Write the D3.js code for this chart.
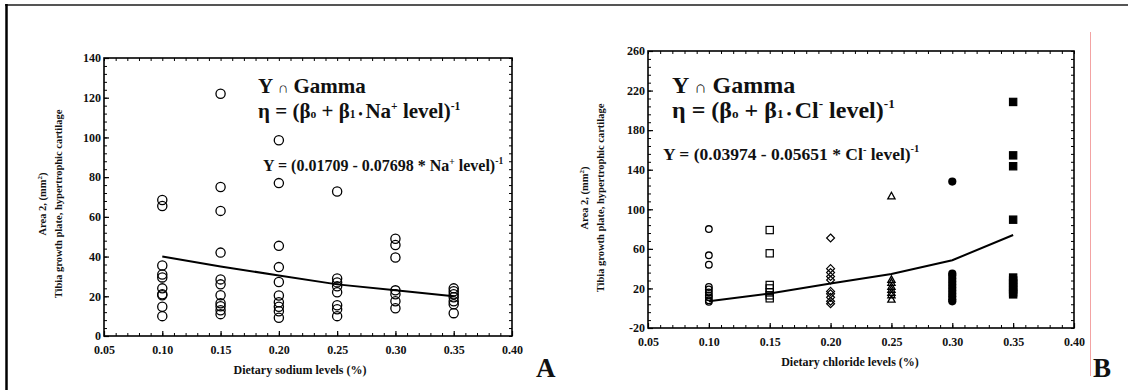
<!DOCTYPE html>
<html>
<head>
<meta charset="utf-8">
<script src="https://cdn.jsdelivr.net/npm/d3@7"></script>
<style>
  body { margin: 0; background: #fff; }
  svg text { font-family: "Liberation Serif", "DejaVu Serif", serif; font-weight: bold; fill: #111; }
</style>
</head>
<body>
<svg id="fig" width="1128" height="390"></svg>
<script>
// ---- data ----
const levels = [0.10, 0.15, 0.20, 0.25, 0.30, 0.35];
const xTickVals = [0.05, 0.10, 0.15, 0.20, 0.25, 0.30, 0.35, 0.40];
const yTicksA = [0, 20, 40, 60, 80, 100, 120, 140];
const yTicksB = [-20, 20, 60, 100, 140, 180, 220, 260];

// panel A: sodium, one list of observations per level
const naArea = [
  [68.5, 65.5, 35.5, 31, 29.5, 24, 21, 20.5, 14.7, 10],
  [122, 75, 63, 42, 28.5, 26, 20.5, 16.5, 15, 13, 11],
  [98.6, 77, 45.4, 34.7, 27.2, 20.4, 17, 14.7, 12.5, 9.2],
  [72.8, 29, 27, 25, 22, 15.5, 13.5, 10],
  [49, 45.8, 39.5, 23, 21, 17.5, 14],
  [24, 22.5, 21, 19.5, 17.5, 16, 11.5]
];
const naFit = [40, 35, 30.5, 26, 23, 20];

// panel B: chloride
const clArea = [
  [80, 53.5, 44, 21.5, 19, 16, 13, 11, 8, 6.5],
  [79, 55.5, 23.5, 20, 16, 13, 10],
  [71, 40, 36, 32, 28.5, 17, 14.5, 11, 7, 4.5],
  [113.5, 29, 26, 22, 19, 16, 13.5, 9],
  [128, 35, 33, 30, 27, 24, 21, 18, 15, 12, 9, 7],
  [208.5, 154.5, 143.5, 89.5, 31, 28, 25, 22, 19, 16, 14]
];
const clFit = [7, 14.8, 25, 34.5, 48.5, 74];
const clShapes = ["circle", "square", "diamond", "triangle", "dot", "block"];

const svg = d3.select("#fig");

// outer frame bits
svg.append("line").attr("x1", 5).attr("x2", 1128).attr("y1", 5).attr("y2", 5)
  .attr("stroke", "#555").attr("stroke-width", 2);
svg.append("line").attr("x1", 6.5).attr("x2", 6.5).attr("y1", 4).attr("y2", 390)
  .attr("stroke", "#000").attr("stroke-width", 2.5);
svg.append("line").attr("x1", 1090.5).attr("x2", 1090.5).attr("y1", 32).attr("y2", 376)
  .attr("stroke", "#f3a3a3").attr("stroke-width", 1);

function range(a, b, step) {
  const out = [];
  for (let v = a; v <= b + 1e-9; v += step) out.push(+v.toFixed(4));
  return out;
}

function drawPanel(cfg) {
  const x = d3.scaleLinear().domain([0.05, 0.40]).range([cfg.left, cfg.right]);
  const y = d3.scaleLinear().domain(cfg.yDomain).range([cfg.bottom, cfg.top]);
  const g = svg.append("g");

  const xMinor = range(0.05, 0.40, 0.01);
  const yMinor = range(cfg.yDomain[0], cfg.yDomain[1], cfg.yMinorStep);

  // inward minor ticks on all four sides
  const sides = [
    [d3.axisBottom(x).tickValues(xMinor), cfg.bottom, "y"],
    [d3.axisTop(x).tickValues(xMinor), cfg.top, "y"],
    [d3.axisLeft(y).tickValues(yMinor), cfg.left, "x"],
    [d3.axisRight(y).tickValues(yMinor), cfg.right, "x"]
  ];
  sides.forEach(([ax, pos, dir]) => {
    const t = dir === "y" ? `translate(0,${pos})` : `translate(${pos},0)`;
    g.append("g").attr("transform", t)
      .call(ax.tickSize(-3).tickFormat(""))
      .call(s => s.select(".domain").remove())
      .selectAll("line").attr("stroke", "#000").attr("stroke-width", 1);
  });

  // labelled axes
  const xa = g.append("g").attr("transform", `translate(0,${cfg.bottom})`)
    .call(d3.axisBottom(x).tickValues(xTickVals).tickSize(-5).tickPadding(9).tickFormat(d3.format(".2f")));
  const ya = g.append("g").attr("transform", `translate(${cfg.left},0)`)
    .call(d3.axisLeft(y).tickValues(cfg.yTicks).tickSize(-5).tickPadding(3).tickFormat(d => String(d)));
  [xa, ya].forEach(a => {
    a.select(".domain").remove();
    a.selectAll("line").attr("stroke", "#000").attr("stroke-width", 1.2);
    a.selectAll("text").style("font-family", "Liberation Serif, serif")
      .style("font-weight", "bold").style("font-size", "12px").attr("fill", "#111");
  });

  g.append("rect")
    .attr("x", cfg.left).attr("y", cfg.top)
    .attr("width", cfg.right - cfg.left).attr("height", cfg.bottom - cfg.top)
    .attr("fill", "none").attr("stroke", "#000").attr("stroke-width", 1.6);

  // points
  cfg.data.forEach((vals, i) => {
    const shape = cfg.shapes ? cfg.shapes[i] : "circle";
    vals.forEach(v => drawMarker(g, shape, x(levels[i]), y(v), cfg.r));
  });

  // fitted curve
  g.append("path")
    .datum(cfg.fit)
    .attr("fill", "none").attr("stroke", "#000").attr("stroke-width", 2)
    .attr("d", d3.line().x((d, i) => x(levels[i])).y(d => y(d)));

  // axis titles
  g.append("text")
    .attr("x", cfg.xTitleX).attr("y", cfg.xTitleY)
    .attr("text-anchor", "middle").style("font-size", "12px")
    .text(cfg.xTitle);

  const yt = g.append("text")
    .attr("transform", `translate(${cfg.yTitleX},${cfg.yTitleY}) rotate(-90)`)
    .attr("text-anchor", "middle").style("font-size", "10.5px");
  const l1 = yt.append("tspan").attr("x", 0).attr("dy", 0);
  l1.append("tspan").text("Area 2, (mm");
  l1.append("tspan").attr("dy", -4).style("font-size", "7px").text("2");
  l1.append("tspan").attr("dy", 4).text(")");
  yt.append("tspan").attr("x", 0).attr("dy", 16).text("Tibia growth plate, hypertrophic cartilage");

  // model text
  const big = cfg.bigFont, sm = big * 0.55;
  const t1 = g.append("text").attr("x", cfg.noteX).attr("y", cfg.noteY).style("font-size", big + "px");
  t1.append("tspan").text("Y ");
  t1.append("tspan").style("font-size", (big * 0.7) + "px").text("∩");
  t1.append("tspan").text(" Gamma");

  const t2 = g.append("text").attr("x", cfg.noteX).attr("y", cfg.noteY + cfg.noteGap).style("font-size", big + "px");
  t2.append("tspan").text("η = (β");
  t2.append("tspan").style("font-size", sm + "px").text("o");
  t2.append("tspan").text(" + β");
  t2.append("tspan").style("font-size", sm + "px").text("1");
  t2.append("tspan").style("font-size", sm + "px").text(" • ");
  t2.append("tspan").text(cfg.ion);
  t2.append("tspan").attr("dy", -big * 0.4).style("font-size", sm + "px").text(cfg.charge);
  t2.append("tspan").attr("dy", big * 0.4).text(" level)");
  t2.append("tspan").attr("dy", -big * 0.4).style("font-size", sm + "px").text("-1");

  const f = cfg.eqFont;
  const t3 = g.append("text").attr("x", cfg.eqX).attr("y", cfg.eqY).style("font-size", f + "px");
  t3.append("tspan").text(cfg.eq + " * " + cfg.ion);
  t3.append("tspan").attr("dy", -f * 0.4).style("font-size", (f * 0.6) + "px").text(cfg.charge);
  t3.append("tspan").attr("dy", f * 0.4).text(" level)");
  t3.append("tspan").attr("dy", -f * 0.45).style("font-size", (f * 0.6) + "px").text("-1");

  // panel letter
  g.append("text").attr("x", cfg.letterX).attr("y", 377)
    .style("font-size", "27px").text(cfg.letter);
}

function drawMarker(g, shape, cx, cy, r) {
  if (shape === "circle") {
    g.append("circle").attr("cx", cx).attr("cy", cy).attr("r", r)
      .attr("fill", "none").attr("stroke", "#000").attr("stroke-width", 1.3);
  } else if (shape === "dot") {
    g.append("circle").attr("cx", cx).attr("cy", cy).attr("r", r + 0.8).attr("fill", "#000");
  } else if (shape === "square" || shape === "block") {
    const s = r * 2.2;
    g.append("rect").attr("x", cx - s / 2).attr("y", cy - s / 2).attr("width", s).attr("height", s)
      .attr("fill", shape === "block" ? "#000" : "none")
      .attr("stroke", "#000").attr("stroke-width", 1.2);
  } else if (shape === "diamond") {
    const s = r * 1.2;
    g.append("path")
      .attr("d", `M${cx},${cy - s}L${cx + s},${cy}L${cx},${cy + s}L${cx - s},${cy}Z`)
      .attr("fill", "none").attr("stroke", "#000").attr("stroke-width", 1.2);
  } else if (shape === "triangle") {
    const s = r * 1.1;
    g.append("path")
      .attr("d", `M${cx},${cy - s}L${cx + s},${cy + s * 0.8}L${cx - s},${cy + s * 0.8}Z`)
      .attr("fill", "none").attr("stroke", "#000").attr("stroke-width", 1.3);
  }
}

drawPanel({
  left: 104, right: 512, top: 58, bottom: 336,
  yDomain: [0, 140], yTicks: yTicksA, yMinorStep: 4,
  data: naArea, fit: naFit, r: 4.6,
  xTitle: "Dietary sodium levels (%)", xTitleX: 300, xTitleY: 374,
  yTitleX: 46, yTitleY: 204,
  noteX: 258, noteY: 93, noteGap: 25, bigFont: 21,
  ion: "Na", charge: "+",
  eq: "Y = (0.01709 - 0.07698", eqX: 263, eqY: 171, eqFont: 16,
  letter: "A", letterX: 536
});

drawPanel({
  left: 648, right: 1074, top: 51, bottom: 328,
  yDomain: [-20, 260], yTicks: yTicksB, yMinorStep: 8,
  data: clArea, fit: clFit, r: 3.3, shapes: clShapes,
  xTitle: "Dietary chloride levels (%)", xTitleX: 850, xTitleY: 366,
  yTitleX: 588, yTitleY: 198,
  noteX: 672, noteY: 93, noteGap: 25, bigFont: 24,
  ion: "Cl", charge: "-",
  eq: "Y = (0.03974 - 0.05651", eqX: 663, eqY: 160, eqFont: 17.5,
  letter: "B", letterX: 1093
});
</script>
</body>
</html>
